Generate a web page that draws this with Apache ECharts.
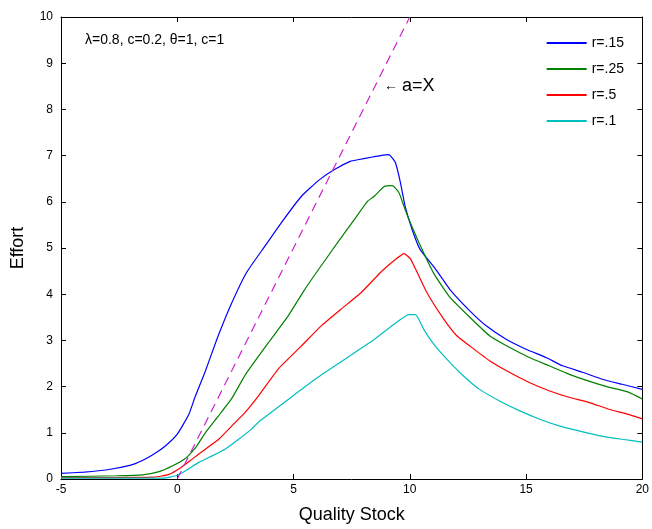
<!DOCTYPE html>
<html><head><meta charset="utf-8">
<script src="https://cdn.jsdelivr.net/npm/echarts@6/dist/echarts.min.js"></script>
<style>html,body{margin:0;padding:0;background:#fff}#c{width:652px;height:529px}</style>
</head><body><div id="c"></div>
<script>
var xTicks = [-5, 0, 5, 10, 15, 20];
var seriesNames = ['r=.15', 'r=.25', 'r=.5', 'r=.1'];

var xBlue = [-5,-4,-3,-2,-1.5,-1,-0.5,0,0.5,0.76,1.19,1.7,2.28,2.98,3.77,4.48,5.34,6.12,6.76,7.46,7.76,8.4,9.04,9.16,9.38,9.6,9.8,10.1,10.44,11.1,11.73,12.58,13.3,14.16,15.0,15.86,16.57,17.43,18.28,19.13,20];
var yBlue = [0.12,0.15,0.2,0.3,0.4,0.54,0.72,0.97,1.4,1.77,2.31,3.02,3.74,4.47,5.04,5.55,6.12,6.48,6.70,6.88,6.91,6.97,7.02,7.0,6.85,6.41,5.9,5.4,4.97,4.55,4.1,3.64,3.31,3.02,2.81,2.63,2.45,2.31,2.16,2.05,1.94];

var xGreen = [-5,-2.6,-1.5,-0.78,-0.22,0.36,0.79,1.22,1.78,2.35,2.92,3.92,4.77,5.48,6.18,6.9,7.62,8.18,8.47,8.9,9.25,9.53,9.75,10.02,10.39,11.03,11.73,12.58,13.43,14.28,15.14,15.99,16.84,17.7,18.55,19.4,20];
var yGreen = [0.05,0.07,0.09,0.16,0.28,0.45,0.68,1.01,1.37,1.75,2.25,2.95,3.53,4.1,4.61,5.12,5.62,6.01,6.12,6.33,6.35,6.2,5.9,5.55,5.12,4.45,3.93,3.5,3.1,2.85,2.63,2.45,2.27,2.12,1.99,1.88,1.73];

var xRed = [-5,-1,-0.35,0.08,0.64,1.22,1.78,2.35,2.92,3.45,4.34,5.34,6.18,7.03,7.9,8.74,9.38,9.75,10.02,10.32,10.74,11.46,12.02,12.58,13.43,14.28,15.14,15.99,16.84,17.7,18.55,19.4,20];
var yRed = [0.03,0.04,0.1,0.22,0.43,0.65,0.86,1.15,1.44,1.77,2.38,2.88,3.31,3.67,4.03,4.47,4.75,4.88,4.77,4.47,4.03,3.46,3.1,2.88,2.56,2.31,2.09,1.91,1.77,1.66,1.51,1.4,1.3];

var xCyan = [-5,-0.6,-0.06,0.36,0.93,1.5,2.07,2.64,3.19,3.49,4.9,6.05,7.03,8.18,8.47,9.32,9.96,10.25,10.6,11.03,11.6,12.31,13.0,13.86,14.71,15.56,16.42,17.27,18.12,19.13,20];
var yCyan = [0.02,0.02,0.07,0.18,0.36,0.5,0.65,0.86,1.08,1.23,1.77,2.2,2.53,2.92,3.02,3.35,3.56,3.56,3.24,2.92,2.59,2.23,1.94,1.69,1.48,1.3,1.15,1.04,0.94,0.86,0.8];

var xDiag = [0, 10];
var yDiag = [0, 10];

function pairs(xs, ys){ return xs.map(function(x,i){ return [x, ys[i]]; }); }

var FONT = 'Liberation Sans, Arial, sans-serif';
var chart = echarts.init(document.getElementById('c'), null, {renderer:'canvas'});

function axisCommon(extra){
  var base = {
    type:'value',
    axisLine:{show:true, onZero:false, lineStyle:{color:'#000', width:1}},
    axisTick:{show:true, inside:true, length:5, lineStyle:{color:'#000'}},
    splitLine:{show:false},
    axisLabel:{color:'#000', fontSize:12, fontFamily:FONT}
  };
  for (var k in extra) base[k] = extra[k];
  return base;
}

var option = {
  animation:false,
  backgroundColor:'#fff',
  grid:{left:61, right:5, top:17, bottom:49, containLabel:false},
  xAxis:[
    axisCommon({min:-5, max:20, interval:5, position:'bottom',
      name:'Quality Stock', nameLocation:'middle', nameGap:27,
      nameTextStyle:{color:'#000', fontSize:18, fontFamily:FONT},
      axisLabel:{color:'#000', fontSize:12, fontFamily:FONT, margin:5,
        customValues: xTicks}}),
    axisCommon({min:-5, max:20, interval:5, position:'top', axisLabel:{show:false}})
  ],
  yAxis:[
    axisCommon({min:0, max:10, interval:1, position:'left',
      name:'Effort', nameLocation:'middle', nameGap:34, nameRotate:90,
      nameTextStyle:{color:'#000', fontSize:18, fontFamily:FONT},
      axisLabel:{color:'#000', fontSize:12, fontFamily:FONT, margin:8}}),
    axisCommon({min:0, max:10, interval:1, position:'right', axisLabel:{show:false}})
  ],
  legend:{
    orient:'vertical', right:23, top:31,
    itemWidth:40, itemHeight:2, itemGap:12,
    icon:'rect',
    textStyle:{color:'#000', fontSize:14, fontFamily:FONT, padding:[0,0,0,0]},
    data:seriesNames
  },
  series:[
    {name:seriesNames[0], type:'line', data:pairs(xBlue,yBlue), showSymbol:false, symbol:'none', smooth:0.15, lineStyle:{color:'#0000ff', width:1.2}, itemStyle:{color:'#0000ff'}},
    {name:seriesNames[1], type:'line', data:pairs(xGreen,yGreen), showSymbol:false, symbol:'none', smooth:0.15, lineStyle:{color:'#008000', width:1.2}, itemStyle:{color:'#008000'}},
    {name:seriesNames[2], type:'line', data:pairs(xRed,yRed), showSymbol:false, symbol:'none', smooth:0.15, lineStyle:{color:'#ff0000', width:1.2}, itemStyle:{color:'#ff0000'}},
    {name:seriesNames[3], type:'line', data:pairs(xCyan,yCyan), showSymbol:false, symbol:'none', smooth:0.15, lineStyle:{color:'#00bfbf', width:1.2}, itemStyle:{color:'#00bfbf'}},
    {name:'a=X', type:'line', data:pairs(xDiag,yDiag), showSymbol:false, symbol:'none', lineStyle:{color:'#cc22cc', width:1.2, type:[9,6]}, itemStyle:{color:'#cc22cc'}}
  ],
  graphic:[
    {type:'text', left:85, top:33, style:{text:'λ=0.8, c=0.2, θ=1, c=1', fill:'#000', font:'14px ' + FONT}},
    {type:'text', left:384, top:79, style:{text:'←', fill:'#000', font:'14px ' + FONT}},
    {type:'text', left:402, top:77, style:{text:'a=X', fill:'#000', font:'18px ' + FONT}}
  ]
};
chart.setOption(option);
</script>
</body></html>
